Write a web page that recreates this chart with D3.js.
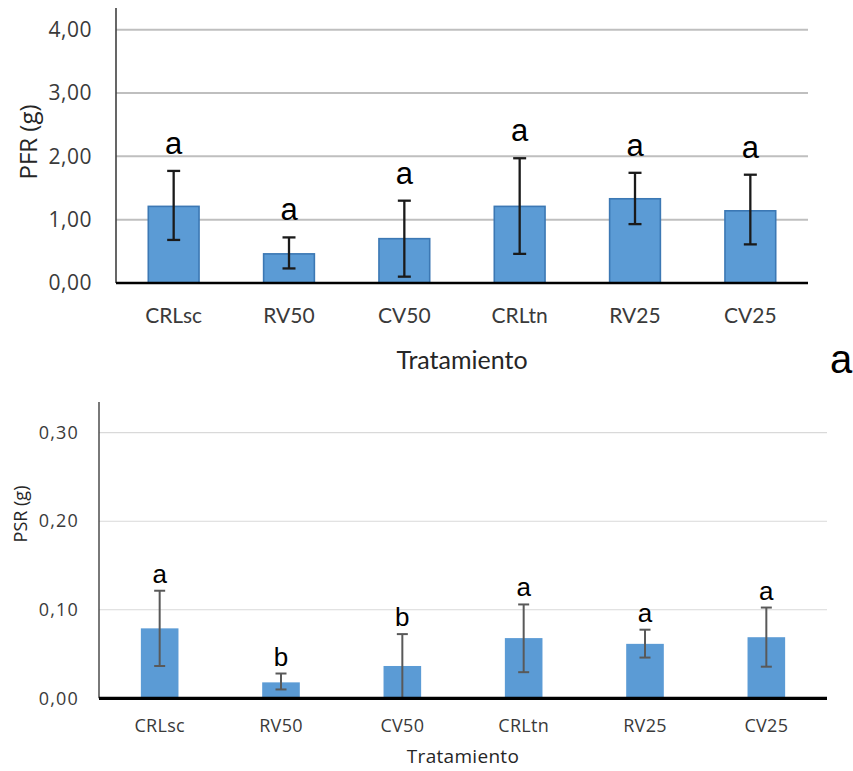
<!DOCTYPE html>
<html>
<head>
<meta charset="utf-8">
<script src="https://cdn.jsdelivr.net/npm/d3@7"></script>
<style>
  html, body { margin: 0; padding: 0; background: #ffffff; }
  svg { display: block; }
</style>
</head>
<body>
<svg id="chart" width="853" height="771"></svg>
<script>
// Treatments shared by both panels
const categories = ["CRLsc", "RV50", "CV50", "CRLtn", "RV25", "CV25"];

// Panel a: fresh root weight, PFR (g)
const pfrMean  = [1.21, 0.46, 0.70, 1.21, 1.33, 1.14];
const pfrUpper = [1.77, 0.72, 1.30, 1.97, 1.74, 1.71];
const pfrLower = [0.68, 0.23, 0.10, 0.46, 0.93, 0.61];
const pfrGroup = ["a", "a", "a", "a", "a", "a"];
const pfrTicks = [0, 1, 2, 3, 4];

// Panel b: dry root weight, PSR (g)
const psrMean  = [0.079, 0.018, 0.0365, 0.068, 0.0615, 0.069];
const psrUpper = [0.1215, 0.028, 0.0725, 0.106, 0.0775, 0.1025];
const psrLower = [0.0365, 0.010, 0.000, 0.0295, 0.046, 0.0357];
const psrGroup = ["a", "b", "b", "a", "a", "a"];
const psrTicks = [0, 0.1, 0.2, 0.3];

const svg = d3.select("#chart");
const fmt2 = d => d3.format(".2f")(d).replace(".", ",");

function panel(opt) {
  const rows = categories.map((c, i) => ({
    cat: c, mean: opt.mean[i], hi: opt.upper[i], lo: opt.lower[i], grp: opt.group[i]
  }));
  const x = d3.scaleBand().domain(categories)
    .range([opt.left, opt.right]).paddingInner(opt.pad).paddingOuter(opt.pad / 2);
  const y = d3.scaleLinear().domain(opt.domain).range([opt.bottom, opt.top]);

  const g = svg.append("g");

  // horizontal gridlines
  g.append("g").selectAll("line").data(opt.ticks.filter(t => t > 0)).join("line")
    .attr("x1", opt.left).attr("x2", opt.right)
    .attr("y1", d => y(d)).attr("y2", d => y(d))
    .attr("stroke", opt.gridColor).attr("stroke-width", opt.gridWidth);

  // y tick labels
  const yAxis = d3.axisLeft(y).tickValues(opt.ticks).tickFormat(fmt2).tickSize(0).tickPadding(0);
  const ya = g.append("g").attr("transform", `translate(${opt.tickRight},0)`).call(yAxis);
  ya.select(".domain").remove();
  ya.selectAll("text")
    .attr("font-family", "'Open Sans', sans-serif")
    .attr("font-size", opt.tickSize)
    .attr("letter-spacing", opt.tickSpacing)
    .attr("fill", "#3a3a3a");

  // y axis line
  g.append("line")
    .attr("x1", opt.left).attr("x2", opt.left)
    .attr("y1", opt.axisTop).attr("y2", opt.bottom)
    .attr("stroke", "#404040").attr("stroke-width", opt.yAxisWidth);

  // bars
  g.append("g").selectAll("rect").data(rows).join("rect")
    .attr("x", d => x(d.cat)).attr("width", x.bandwidth())
    .attr("y", d => y(d.mean)).attr("height", d => y(0) - y(d.mean))
    .attr("fill", "#5B9BD5")
    .attr("stroke", opt.barStroke || "none")
    .attr("stroke-width", opt.barStroke ? 1.6 : 0);

  // error bars
  const eb = g.append("g").selectAll("g").data(rows).join("g")
    .attr("transform", d => `translate(${x(d.cat) + x.bandwidth() / 2},0)`)
    .attr("stroke", opt.errColor).attr("stroke-width", opt.errWidth);
  eb.append("line").attr("y1", d => y(d.hi)).attr("y2", d => y(d.lo));
  eb.append("line").attr("x1", -opt.cap / 2).attr("x2", opt.cap / 2)
    .attr("y1", d => y(d.hi)).attr("y2", d => y(d.hi));
  eb.append("line").attr("x1", -opt.cap / 2).attr("x2", opt.cap / 2)
    .attr("y1", d => y(d.lo)).attr("y2", d => y(d.lo));

  // x axis baseline
  g.append("line")
    .attr("x1", opt.left).attr("x2", opt.right)
    .attr("y1", opt.bottom).attr("y2", opt.bottom)
    .attr("stroke", "#000").attr("stroke-width", opt.xAxisWidth);

  // significance letters
  g.append("g").selectAll("text").data(rows).join("text")
    .attr("x", d => x(d.cat) + x.bandwidth() / 2)
    .attr("y", d => y(d.hi) - opt.letterGap)
    .attr("text-anchor", "middle")
    .attr("font-family", "'Liberation Sans', Arial, sans-serif")
    .attr("font-size", opt.letterSize)
    .attr("fill", "#000")
    .text(d => d.grp);

  // category labels
  const xAxis = d3.axisBottom(x).tickSize(0).tickPadding(0);
  const xa = g.append("g").attr("transform", `translate(0,${opt.catBaseline})`).call(xAxis);
  xa.select(".domain").remove();
  xa.selectAll("text")
    .attr("dy", 0)
    .attr("font-family", opt.catFont)
    .attr("font-size", opt.catSize)
    .attr("letter-spacing", opt.catSpacing)
    .attr("fill", "#3a3a3a");

  // axis titles
  g.append("text")
    .attr("x", (opt.left + opt.right) / 2).attr("y", opt.titleBaseline)
    .attr("text-anchor", "middle")
    .attr("font-family", opt.catFont)
    .attr("font-size", opt.titleSize)
    .attr("letter-spacing", opt.catSpacing)
    .attr("fill", "#262626")
    .text("Tratamiento");

  g.append("text")
    .attr("transform", `translate(${opt.yTitleX},${opt.yTitleY}) rotate(-90)`)
    .attr("text-anchor", "middle")
    .attr("dominant-baseline", "central")
    .attr("font-family", "'Open Sans', sans-serif")
    .attr("font-size", opt.yTitleSize)
    .attr("fill", "#262626")
    .text(opt.yTitle);
}

panel({
  mean: pfrMean, upper: pfrUpper, lower: pfrLower, group: pfrGroup, ticks: pfrTicks,
  domain: [0, 4], left: 116, right: 808, top: 29.7, bottom: 283, axisTop: 8, pad: 0.56,
  gridColor: "#BFBFBF", gridWidth: 2, yAxisWidth: 1.6, xAxisWidth: 2.4,
  tickRight: 92, tickSize: 21, tickSpacing: 0.5,
  barStroke: "#3C78B4", errColor: "#1a1a1a", errWidth: 2.3, cap: 13,
  letterGap: 17, letterSize: 31,
  catBaseline: 323, catFont: "Lato, sans-serif", catSize: 21, catSpacing: 0,
  titleBaseline: 369, titleSize: 25,
  yTitle: "PFR (g)", yTitleX: 27, yTitleY: 142, yTitleSize: 24
});

panel({
  mean: psrMean, upper: psrUpper, lower: psrLower, group: psrGroup, ticks: psrTicks,
  domain: [0, 0.3], left: 99, right: 827, top: 432.7, bottom: 698.3, axisTop: 402, pad: 0.69,
  gridColor: "#D9D9D9", gridWidth: 1.2, yAxisWidth: 1.4, xAxisWidth: 3.3,
  tickRight: 79, tickSize: 18, tickSpacing: 1.2,
  barStroke: null, errColor: "#595959", errWidth: 2, cap: 11,
  letterGap: 8, letterSize: 26,
  catBaseline: 731.5, catFont: "'Open Sans', sans-serif", catSize: 18, catSpacing: 0.3,
  titleBaseline: 763, titleSize: 19,
  yTitle: "PSR (g)", yTitleX: 20, yTitleY: 514, yTitleSize: 18
});

// panel marker
svg.append("text")
  .attr("x", 830).attr("y", 373)
  .attr("font-family", "'Liberation Sans', Arial, sans-serif")
  .attr("font-size", 40)
  .attr("fill", "#000")
  .text("a");
</script>
</body>
</html>
